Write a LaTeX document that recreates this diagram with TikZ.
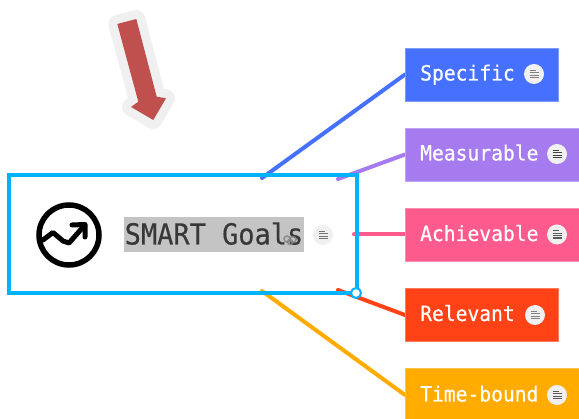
\documentclass[tikz,border=0pt]{standalone}
\usepackage{fontspec}
\newfontfamily\topicfont{DejaVu Sans Mono}[FakeBold=0.35,FakeStretch=0.935]
\newfontfamily\titlefont{DejaVu Sans Mono}[FakeBold=0.3,FakeStretch=0.93]
\usetikzlibrary{backgrounds}
\definecolor{cblue}{HTML}{4671FF}
\definecolor{cpurple}{HTML}{A67BF0}
\definecolor{cpink}{HTML}{FD5A8E}
\definecolor{cred}{HTML}{FF4317}
\definecolor{corange}{HTML}{FFAB00}
\definecolor{cframe}{HTML}{00B2FF}
\definecolor{carrow}{HTML}{C0504D}
\definecolor{chalo}{HTML}{F0F0F0}
\tikzset{
  x=1pt,y=-1pt,
  topic/.style={draw=#1!70!white,fill=#1,line width=0.7pt,minimum height=53pt,anchor=west,inner sep=0pt},
  topictext/.style={text=white,font=\topicfont\fontsize{21}{21}\selectfont,anchor=base west,inner sep=0pt},
  conn/.style={line width=4pt,line cap=round},
  notebadge/.style={circle,fill=#1,minimum size=20pt,inner sep=0pt},
  noteline/.style={line width=1.2pt,draw=#1},
}
\newcommand{\notelines}[2]{%
  \draw[noteline=#2] ([xshift=-4.5pt,yshift=-3.6pt]#1.center) -- ++(9,0);
  \draw[noteline=#2] ([xshift=-4.5pt,yshift=-1.2pt]#1.center) -- ++(9,0);
  \draw[noteline=#2] ([xshift=-4.5pt,yshift=1.2pt]#1.center) -- ++(9,0);
  \draw[noteline=#2] ([xshift=-4.5pt,yshift=3.6pt]#1.center) -- ++(6,0);
}
\begin{document}
\begin{tikzpicture}
\useasboundingbox (0,0) rectangle (579,419);
\clip (0,0) rectangle (579,419);
% callout arrow
\path[draw=chalo,fill=chalo,line width=18pt,line join=round]
  (117.3,24)--(136.3,19)--(156.7,96.7)--(166,98.3)--(153.3,120)--(131,107)--(138.3,101.7)--cycle;
\fill[carrow]
  (117.3,24)--(136.3,19)--(156.7,96.7)--(166,98.3)--(153.3,120)--(131,107)--(138.3,101.7)--cycle;
% main frame
\node[draw=cframe,line width=4pt,minimum width=348pt,minimum height=118pt,inner sep=0pt] (main) at (183,234) {};
% topics
\node[topic=cblue,minimum width=153pt] (spec) at (405,74.5) {};
\node[topic=cpurple,minimum width=190pt] (meas) at (405,154.5) {};
\node[topic=cpink,minimum width=190pt] (achi) at (405,234.5) {};
\node[topic=cred,minimum width=153pt] (rele) at (405,315) {};
\node[topic=corange,minimum width=190pt] (time) at (405,395) {};
\node[topictext] at (420,80.5) {Specific};
\node[topictext] at (420,160.5) {Measurable};
\node[topictext] at (420,241) {Achievable};
\node[topictext] at (420,321) {Relevant};
\node[topictext] at (420,401.5) {Time-bound};
% connector ends
\coordinate (e1) at (262,178);
\coordinate (e2) at (338,179);
\coordinate (e3) at (354,234.5);
\coordinate (e4) at (338,290);
\coordinate (e5) at (262,291);
\begin{scope}[on background layer]
\draw[conn,cblue] (e1) -- (spec.west);
\draw[conn,cpurple] (e2) -- (meas.west);
\draw[conn,cpink] (e3) -- (achi.west);
\draw[conn,cred] (e4) -- (rele.west);
\draw[conn,corange] (e5) -- (time.west);
\end{scope}
% handle
\node[circle,draw=cframe,fill=white,line width=2pt,minimum size=10pt,inner sep=0pt] (handle) at (356,293) {};
% note badges
\node[notebadge=chalo] (n1) at (534,74) {};
\node[notebadge=chalo] (n2) at (557,154) {};
\node[notebadge=chalo] (n3) at (557,234.5) {};
\node[notebadge=chalo] (n4) at (535,315) {};
\node[notebadge=chalo] (n5) at (557,395) {};
\notelines{n1}{gray}\notelines{n2}{black!75}\notelines{n3}{black!65}\notelines{n4}{gray}\notelines{n5}{black!65}
\node[notebadge=chalo] (n0) at (323,235) {};
\notelines{n0}{black!55}
% highlight + title
\node[fill=black!23,minimum width=180pt,minimum height=35pt,inner sep=0pt] (hl) at (214,234.5) {};
\node[text=black!78,font=\titlefont\fontsize{29}{29}\selectfont,inner sep=0pt,anchor=base] (title) at (214,244.5) {SMART Goals};
% move cursor glyph
\draw[black!50,opacity=.8,line width=1.6pt] (287,239) circle (3pt) (293,239.5) circle (3pt);
\draw[black!50,opacity=.8,line width=1.6pt] (290,242) circle (2.5pt);
% icon
\node[circle,draw=black,line width=5.5pt,minimum size=60pt,inner sep=0pt] (icon) at (69,235) {};
\draw[black,line width=5pt,line join=round,line cap=round] (43,240)--(53,232.5)--(63,241)--(69,243)--(84,226);
\draw[black,line width=5pt,line join=round,line cap=round] (72,225)--(85,224.5)--(85,237);
\end{tikzpicture}
\end{document}
